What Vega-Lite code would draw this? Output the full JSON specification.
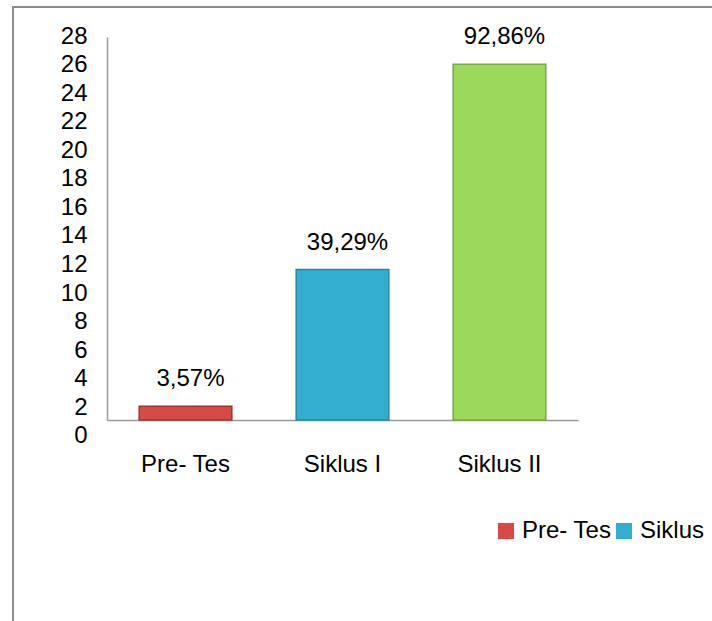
{
  "$schema": "https://vega.github.io/schema/vega-lite/v6.json",
  "autosize": {"type": "none"},
  "padding": {"left": 13, "top": 7, "right": 0, "bottom": 0},
  "width": 712,
  "height": 630,
  "background": "white",
  "config": {
    "font": "Liberation Sans",
    "view": {"stroke": "#8c8c8c", "strokeWidth": 2}
  },
  "data": {
    "values": [
      {"kategori": "Pre- Tes", "jumlah": 1, "label": "3,57%"},
      {"kategori": "Siklus I", "jumlah": 11, "label": "39,29%"},
      {"kategori": "Siklus II", "jumlah": 26, "label": "92,86%"}
    ]
  },
  "encoding": {
    "x": {
      "field": "kategori",
      "type": "nominal",
      "sort": ["Pre- Tes", "Siklus I", "Siklus II"],
      "scale": {"range": [94, 565], "paddingInner": 0.41, "paddingOuter": 0.205},
      "axis": {
        "title": null,
        "offset": -217,
        "labelAngle": 0,
        "ticks": false,
        "domainColor": "#9a9a9a",
        "domainWidth": 1.5,
        "labelFontSize": 24,
        "labelColor": "#000000",
        "labelPadding": 32,
        "labelFont": "Liberation Sans"
      }
    },
    "y": {
      "field": "jumlah",
      "type": "quantitative",
      "scale": {"domain": [0, 28], "range": [413, 30], "nice": false},
      "axis": {
        "title": null,
        "offset": -94,
        "values": [0, 2, 4, 6, 8, 10, 12, 14, 16, 18, 20, 22, 24, 26, 28],
        "grid": false,
        "ticks": false,
        "domainColor": "#9a9a9a",
        "domainWidth": 1.5,
        "labelFontSize": 24,
        "labelColor": "#000000",
        "labelPadding": 20,
        "labelOverlap": false,
        "labelOffset": {"expr": "(28 - datum.value) * 0.6 - 1"},
        "labelFont": "Liberation Sans"
      }
    }
  },
  "layer": [
    {
      "mark": {"type": "bar", "strokeWidth": 1.5},
      "encoding": {
        "color": {
          "field": "kategori",
          "type": "nominal",
          "sort": ["Pre- Tes", "Siklus I", "Siklus II"],
          "scale": {"range": ["#d64a48", "#33aed0", "#9cd95a"]},
          "legend": {
            "title": null,
            "orient": "none",
            "direction": "horizontal",
            "legendX": 481,
            "legendY": 512,
            "symbolType": "square",
            "symbolSize": 260,
            "symbolStrokeWidth": 0,
            "labelFontSize": 24,
            "labelColor": "#000000",
            "labelFont": "Liberation Sans",
            "columnPadding": 0,
            "labelOffset": 4
          }
        },
        "stroke": {
          "field": "kategori",
          "type": "nominal",
          "sort": ["Pre- Tes", "Siklus I", "Siklus II"],
          "scale": {"range": ["#9e3533", "#2888a3", "#76a845"]},
          "legend": null
        }
      }
    },
    {
      "mark": {"type": "text", "baseline": "bottom", "dy": -15, "dx": 5, "fontSize": 24, "color": "#000000", "font": "Liberation Sans"},
      "encoding": {"text": {"field": "label"}}
    }
  ]
}
